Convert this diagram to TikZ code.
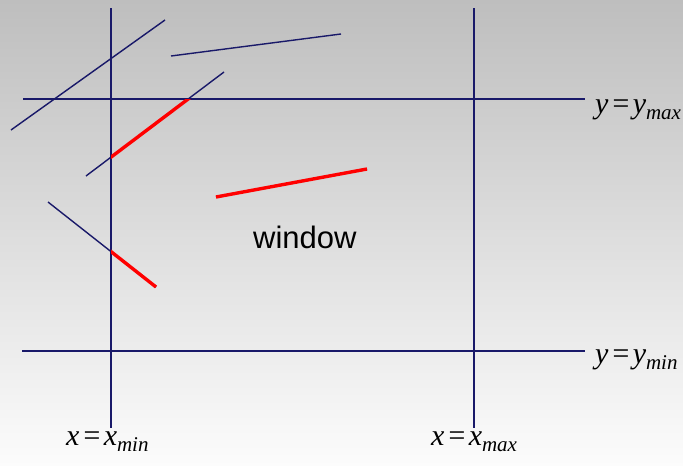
\documentclass[tikz,border=0pt]{standalone}
\usepackage{fontspec}
\setmainfont{Liberation Serif}
\newfontfamily\winfont{Liberation Sans}
\usetikzlibrary{calc}
\definecolor{navyline}{RGB}{25,25,105}
\definecolor{bgtop}{RGB}{190,190,190}
\definecolor{bgbot}{RGB}{252,252,252}
% x = x_min style label: letter, equals sign, subscript
\newcommand{\bndlbl}[3]{#1\kern2pt=\kern2pt#2\raisebox{-6pt}{\fontsize{21}{22}\selectfont #3}}

\begin{document}
\begin{tikzpicture}[x=1pt,y=-1pt,
  edge/.style={draw=navyline,line width=1.5pt},
  seg/.style={draw=navyline,line width=1.4pt},
  inside/.style={draw=red,line width=3.4pt},
  lbl/.style={font=\fontsize{30}{32}\selectfont\itshape,anchor=base west,inner sep=0pt}]
% ---- background (grey to white) ----
\shade[top color=bgtop,bottom color=bgbot] (0,0) rectangle (683,466);
\useasboundingbox (0,0) rectangle (683,466);
% ---- window edges ----
\coordinate (xmin-t) at (111,8);   \coordinate (xmin-b) at (111,428);
\coordinate (xmax-t) at (474,8);   \coordinate (xmax-b) at (474,428);
\coordinate (ymax-l) at (23,99);   \coordinate (ymax-r) at (585,99);
\coordinate (ymin-l) at (22,351);  \coordinate (ymin-r) at (585,351);
\draw[edge] (xmin-t) -- (xmin-b);
\draw[edge] (xmax-t) -- (xmax-b);
\draw[edge] (ymax-l) -- (ymax-r);
\draw[edge] (ymin-l) -- (ymin-r);
% ---- line segments ----
\coordinate (a1) at (11,130);  \coordinate (a2) at (165,20);
\coordinate (b1) at (171,56);  \coordinate (b2) at (341,34);
\coordinate (c1) at (86,176);  \coordinate (c2) at (224,72);
\coordinate (d1) at (216,197); \coordinate (d2) at (367,169);
\coordinate (e1) at (48,202);  \coordinate (e2) at (156,287);
\foreach \p in {a,b,c,d,e} {\draw[seg] (\p1) -- (\p2);}
% ---- parts kept by the window ----
\begin{scope}
  \clip (xmin-t |- ymax-l) rectangle (xmax-t |- ymin-l);
  \foreach \p in {c,d,e} {\draw[inside] (\p1) -- (\p2);}
\end{scope}
% ---- labels ----
\node[font=\winfont\fontsize{31}{33}\selectfont,anchor=base west,inner sep=0pt] (win) at (253,248) {window};
\node[lbl] (ymaxlbl) at (595,113) {\bndlbl{y}{y}{max}};
\node[lbl] (yminlbl) at (595,363) {\bndlbl{y}{y}{min}};
\node[lbl] (xminlbl) at (66,445) {\bndlbl{x}{x}{min}};
\node[lbl] (xmaxlbl) at (431,445) {\bndlbl{x}{x}{max}};
\end{tikzpicture}
\end{document}
